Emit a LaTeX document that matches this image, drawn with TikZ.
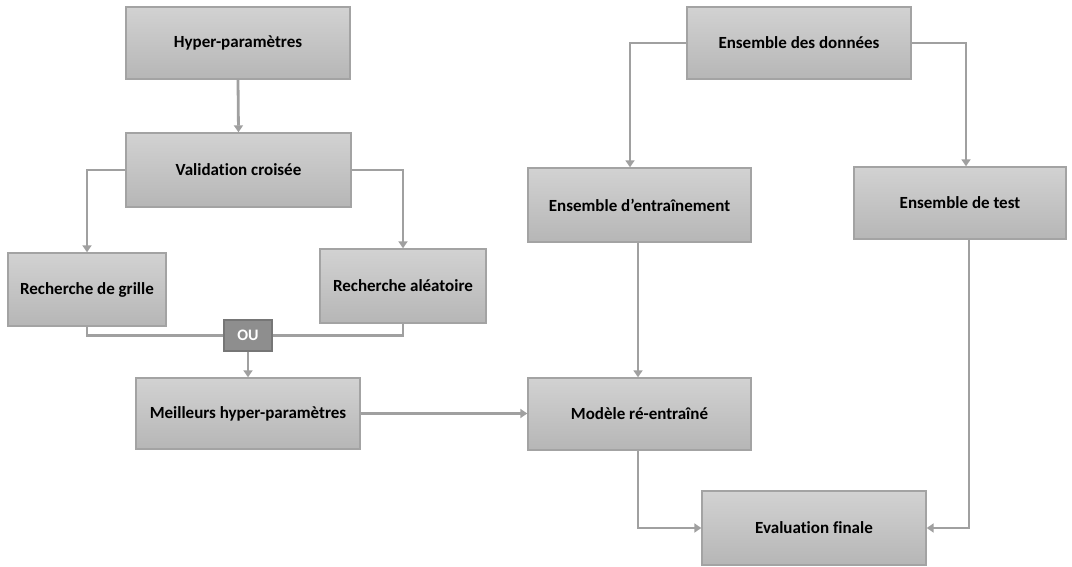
\documentclass[tikz,border=0pt]{standalone}
\usepackage{fontspec}
\setmainfont{Carlito}[Ligatures={NoCommon}]
\usetikzlibrary{arrows.meta,calc}
\definecolor{boxtop}{HTML}{D2D2D2}
\definecolor{boxbot}{HTML}{B6B6B6}
\definecolor{boxline}{HTML}{A3A3A3}
\definecolor{conn}{HTML}{A0A0A0}
\definecolor{oufill}{HTML}{8E8E8E}
\definecolor{ouline}{HTML}{767676}
\tikzset{
  procbox/.style={draw=boxline, line width=1.4pt, top color=boxtop, bottom color=boxbot,
    font=\fontsize{17}{20}\selectfont\bfseries, text=black, inner sep=0pt},
  oubox/.style={draw=ouline, line width=1.4pt, fill=oufill, text=white,
    font=\fontsize{16}{19}\selectfont\bfseries, inner sep=0pt},
  conn/.style={draw=conn, line width=2.8pt},
  arr/.style={conn, -{Triangle[length=7pt,width=9pt]}}
}
\begin{document}
\begin{tikzpicture}[x=1pt,y=-1pt]
\useasboundingbox (0,0) rectangle (1072,567);
% left column
\node[procbox, minimum width=224pt, minimum height=72pt] (hp) at (238,43) {Hyper-paramètres};
\node[procbox, minimum width=225pt, minimum height=74pt] (vc) at (238.5,170) {Validation croisée};
\node[procbox, minimum width=158pt, minimum height=73pt] (rg) at (87,289.5) {Recherche de grille};
\node[procbox, minimum width=166pt, minimum height=74pt] (ra) at (403,286) {Recherche aléatoire};
\node[oubox, minimum width=48pt, minimum height=31pt] (ou) at (248,335.5) {OU};
\node[procbox, minimum width=224pt, minimum height=71pt] (mh) at (248,413.5) {Meilleurs hyper-paramètres};
% right part
\node[procbox, minimum width=224pt, minimum height=72pt] (ed) at (799,43) {Ensemble des données};
\node[procbox, minimum width=223pt, minimum height=74pt] (ee) at (639.5,205) {Ensemble d’entraînement};
\node[procbox, minimum width=212pt, minimum height=72pt] (et) at (960,203) {Ensemble de test};
\node[procbox, minimum width=223pt, minimum height=72pt] (mr) at (639.5,414) {Modèle ré-entraîné};
\node[procbox, minimum width=224pt, minimum height=74pt] (ef) at (814,528) {Evaluation finale};
% connectors
\draw[arr] (hp.south) -- (vc.north);
\draw[arr] (vc.west) -| (rg.north);
\draw[arr] (vc.east) -| (ra.north);
\draw[conn] (rg.south) |- (ou.west);
\draw[conn] (ra.south) |- (ou.east);
\draw[arr] (ou.south) -- (mh.north);
\draw[arr] (mh.east) -- (mh.east -| mr.west);
\draw[arr] (ed.west) -| ([xshift=-9.5pt]ee.north);
\draw[arr] (ed.east) -| ([xshift=6pt]et.north);
\draw[arr] ([xshift=-1.5pt]ee.south) -- ([xshift=-1.5pt]mr.north);
\draw[arr] ([xshift=-1.5pt]mr.south) |- (ef.west);
\draw[arr] ([xshift=9pt]et.south) |- (ef.east);
\end{tikzpicture}
\end{document}
